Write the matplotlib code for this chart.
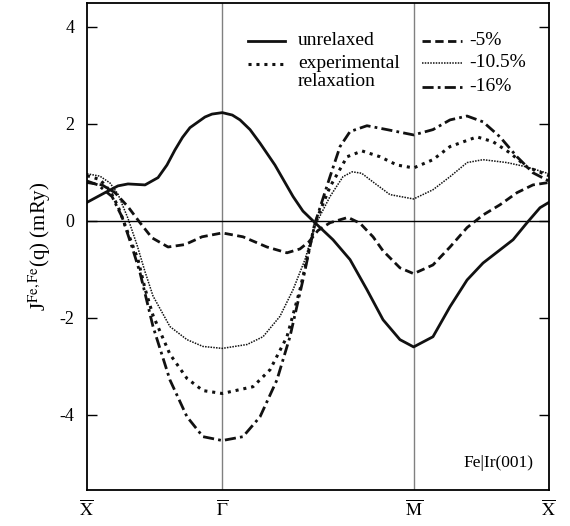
import numpy as np
import matplotlib
matplotlib.use("Agg")
import matplotlib.pyplot as plt

plt.rcParams["font.family"] = ["Liberation Serif", "DejaVu Serif"]
plt.rcParams["mathtext.fontset"] = "stix"
plt.rcParams["axes.unicode_minus"] = False

# high-symmetry points along the path (X - Gamma - M - X)
SYM_POS = [0.0, 1.0, 1.0 + np.sqrt(2), 2.0 + np.sqrt(2)]
SYM_LABELS = [r"$\overline{\mathrm{X}}$", r"$\overline{\Gamma}$",
              r"$\overline{\mathrm{M}}$", r"$\overline{\mathrm{X}}$"]

# unrelaxed
x_unrel = [0.000, 0.133, 0.229, 0.303, 0.429, 0.525, 0.591, 0.650, 0.706, 0.761,
           0.872, 0.924, 1.000, 1.074, 1.131, 1.205, 1.279, 1.389, 1.523, 1.596,
           1.670, 1.818, 1.944, 2.069, 2.188, 2.313, 2.414, 2.557, 2.683, 2.809,
           2.927, 3.052, 3.149, 3.252, 3.348, 3.414]
y_unrel = [0.38, 0.58, 0.72, 0.76, 0.74, 0.89, 1.15, 1.46, 1.72, 1.92,
           2.14, 2.20, 2.23, 2.18, 2.08, 1.88, 1.60, 1.15, 0.50, 0.20,
           0.00, -0.39, -0.80, -1.42, -2.04, -2.45, -2.60, -2.39, -1.77, -1.22,
           -0.87, -0.60, -0.39, -0.04, 0.27, 0.38]

# experimental relaxation
x_exp = [0.000, 0.096, 0.170, 0.229, 0.303, 0.377, 0.429, 0.488, 0.613, 0.739,
         0.857, 1.000, 1.227, 1.353, 1.478, 1.574, 1.685, 1.796, 1.922, 2.033,
         2.166, 2.291, 2.414, 2.557, 2.683, 2.882, 3.001, 3.126, 3.252, 3.414]
y_exp = [0.93, 0.85, 0.62, 0.30, -0.25, -0.80, -1.40, -1.95, -2.75, -3.25,
         -3.50, -3.56, -3.42, -3.07, -2.39, -1.42, -0.05, 0.70, 1.32, 1.44,
         1.32, 1.15, 1.09, 1.26, 1.53, 1.73, 1.63, 1.40, 1.11, 0.93]

# -5%
x_m5 = [0.000, 0.111, 0.207, 0.303, 0.392, 0.480, 0.599, 0.724, 0.850, 1.000,
        1.153, 1.330, 1.478, 1.574, 1.641, 1.707, 1.796, 1.929, 2.018, 2.069,
        2.114, 2.188, 2.313, 2.414, 2.557, 2.683, 2.809, 2.927, 3.052, 3.178,
        3.296, 3.414]
y_m5 = [0.79, 0.74, 0.58, 0.29, -0.04, -0.35, -0.54, -0.49, -0.33, -0.25,
        -0.33, -0.54, -0.66, -0.58, -0.43, -0.20, -0.04, 0.07, -0.05, -0.20,
        -0.33, -0.62, -0.97, -1.09, -0.91, -0.54, -0.14, 0.12, 0.33, 0.58,
        0.74, 0.79]

# -10.5%
x_m105 = [0.000, 0.096, 0.170, 0.229, 0.303, 0.370, 0.429, 0.488, 0.613, 0.739,
          0.857, 1.000, 1.183, 1.301, 1.426, 1.523, 1.611, 1.685, 1.796, 1.892,
          1.960, 2.030, 2.114, 2.239, 2.414, 2.557, 2.683, 2.809, 2.927, 3.104,
          3.252, 3.414]
y_m105 = [0.97, 0.92, 0.78, 0.55, 0.05, -0.50, -1.05, -1.55, -2.18, -2.45,
          -2.59, -2.63, -2.55, -2.39, -1.97, -1.42, -0.80, -0.10, 0.50, 0.91,
          1.01, 0.98, 0.80, 0.54, 0.45, 0.64, 0.91, 1.20, 1.26, 1.20,
          1.11, 0.97]

# -16%
x_m16 = [0.000, 0.081, 0.185, 0.259, 0.333, 0.392, 0.488, 0.613, 0.739, 0.857,
         1.000, 1.153, 1.279, 1.404, 1.500, 1.596, 1.685, 1.796, 1.870, 1.944,
         2.069, 2.217, 2.414, 2.557, 2.683, 2.809, 2.927, 3.052, 3.178, 3.296,
         3.414]
y_m16 = [0.82, 0.74, 0.50, 0.08, -0.54, -1.07, -2.18, -3.28, -4.04, -4.45,
         -4.53, -4.45, -4.04, -3.28, -2.39, -1.22, -0.05, 0.91, 1.53, 1.84,
         1.96, 1.88, 1.77, 1.88, 2.08, 2.16, 2.04, 1.73, 1.32, 0.99,
         0.82]

STYLES = {
    "unrelaxed": dict(ls="-", lw=2.0),
    "exp": dict(ls=(0, (1, 1.6)), lw=2.2),
    "m5": dict(ls=(0, (3, 1.6)), lw=2.0),
    "m105": dict(ls=(0, (1, 0.8)), lw=1.1),
    "m16": dict(ls=(0, (4, 1.5, 1, 1.5)), lw=2.0),
}
INK = "#111111"

fig = plt.figure(figsize=(5.70, 5.26), dpi=100)
ax = fig.add_axes([0.1526, 0.0684, 0.8105, 0.9259])

for xv in SYM_POS[1:3]:
    ax.axvline(xv, color="#808080", lw=1.0, zorder=1)
ax.axhline(0, color="black", lw=1.0, zorder=1)

ax.plot(x_unrel, y_unrel, color=INK, **STYLES["unrelaxed"])
ax.plot(x_exp, y_exp, color=INK, **STYLES["exp"])
ax.plot(x_m5, y_m5, color=INK, **STYLES["m5"])
ax.plot(x_m105, y_m105, color=INK, **STYLES["m105"])
ax.plot(x_m16, y_m16, color=INK, **STYLES["m16"])

ax.set_xlim(SYM_POS[0], SYM_POS[-1])
ax.set_ylim(-5.55, 4.49)
ax.set_xticks(SYM_POS)
ax.set_xticklabels(SYM_LABELS, fontsize=13)
ax.tick_params(axis="x", length=0, pad=7)
ax.set_yticks([-4, -2, 0, 2, 4])
ax.tick_params(axis="y", direction="in", length=7, width=1, left=True, right=True,
               labelsize=13, pad=9)
for sp in ax.spines.values():
    sp.set_linewidth(1.3)
ax.set_ylabel(r"J$^{\mathrm{Fe,Fe}}$(q) (mRy)", fontsize=15, labelpad=5)


# legend drawn by hand, two columns
def legend_line(x0, x1, y, style):
    ax.plot([x0, x1], [y, y], color=INK, transform=ax.transAxes,
            clip_on=False, **style)


def legend_text(x, y, text):
    ax.text(x, y, text, transform=ax.transAxes, fontsize=14,
            va="center", ha="left")


legend_line(0.348, 0.429, 0.922, STYLES["unrelaxed"])
legend_text(0.457, 0.922, "unrelaxed")
legend_line(0.348, 0.429, 0.875, STYLES["exp"])
legend_text(0.457, 0.875, "experimental")
legend_text(0.457, 0.839, "relaxation")

legend_line(0.725, 0.812, 0.922, STYLES["m5"])
legend_text(0.827, 0.922, "-5%")
legend_line(0.725, 0.812, 0.877, STYLES["m105"])
legend_text(0.827, 0.877, "-10.5%")
legend_line(0.725, 0.812, 0.828, STYLES["m16"])
legend_text(0.827, 0.828, "-16%")

ax.text(0.89, 0.056, "Fe|Ir(001)", transform=ax.transAxes, fontsize=12.5,
        ha="center", va="center")

fig.savefig("out.png", dpi=100)
